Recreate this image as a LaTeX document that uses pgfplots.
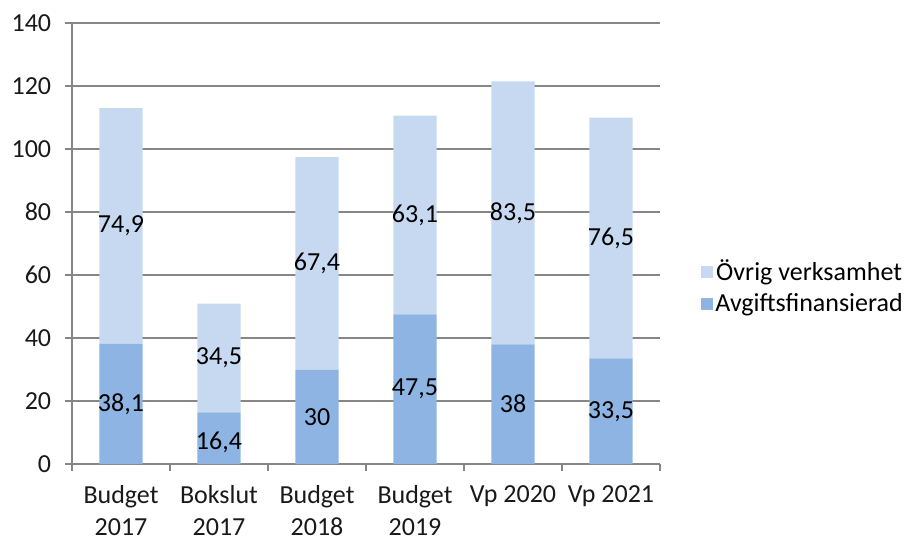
\documentclass[border=0pt]{standalone}
\usepackage{pgfplots}
\pgfplotsset{compat=1.18}
\usepackage{fontspec}
\setmainfont{Carlito}
\definecolor{ovrig}{HTML}{C6D9F1}
\definecolor{avgift}{HTML}{8DB4E2}
\definecolor{gridc}{HTML}{868686}
\begin{document}
\fontsize{26}{30}\selectfont
\begin{tikzpicture}
\path[use as bounding box] (0,0) rectangle (915pt,542pt);
\pgfplotsset{
  common/.style={
    scale only axis, width=588pt, height=441pt,
    at={(72pt,78pt)}, anchor=south west,
    xmin=-0.5, xmax=5.5, ymin=0, ymax=140,
  }
}
\begin{axis}[
  common,
  ybar stacked, bar width=0.44,
  axis lines=left, axis line style={-, gridc, line width=1.3pt},
  ytick={0,20,...,140},
  yticklabel style={xshift=-5pt},
  ymajorgrids, major grid style={gridc, line width=1.3pt},
  xtick={-0.5,0.5,...,5.5}, x tick label as interval,
  xticklabels={{Budget\\2017},{Bokslut\\2017},{Budget\\2018},{Budget\\2019},{Vp 2020},{Vp 2021}},
  xticklabel style={align=center, anchor=north, yshift=-6pt, font=\fontsize{26}{32}\selectfont},
  tick align=outside, major tick length=7pt,
  tick style={gridc, line width=1.3pt},
  tick label style={font=\fontsize{26}{30}\selectfont, text=black!90},
  /pgf/number format/assume math mode=true,
  reverse legend,
  legend style={at={(1.065,0.40)}, anchor=west, draw=none, fill=none,
    font=\fontsize{26}{30}\selectfont, row sep=5pt,
    /tikz/every even column/.append style={column sep=2pt}},
  legend image code/.code={\fill[#1] (0pt,-6pt) rectangle (12pt,6pt);},
]
\addplot[fill=avgift, draw=none] coordinates {(0,38.1) (1,16.4) (2,30) (3,47.5) (4,38) (5,33.5)};
\addlegendentry{Avgiftsfinansierad}
\addplot[fill=ovrig, draw=none] coordinates {(0,74.9) (1,34.5) (2,67.4) (3,63.1) (4,83.5) (5,76.5)};
\addlegendentry{Övrig verksamhet}
\end{axis}
\begin{axis}[
  common, hide axis,
  nodes near coords, point meta=explicit symbolic,
  every node near coord/.style={anchor=center, font=\fontsize{26}{30}\selectfont, text=black},
]
\addplot[only marks, mark=none] coordinates {
  (0,19.05)[38,1] (1,7.0)[16,4] (2,15)[30] (3,23.75)[47,5] (4,19)[38] (5,16.75)[33,5]
  (0,75.55)[74,9] (1,33.65)[34,5] (2,63.7)[67,4] (3,79.05)[63,1] (4,79.75)[83,5] (5,71.75)[76,5]
};
\end{axis}
\end{tikzpicture}
\end{document}
